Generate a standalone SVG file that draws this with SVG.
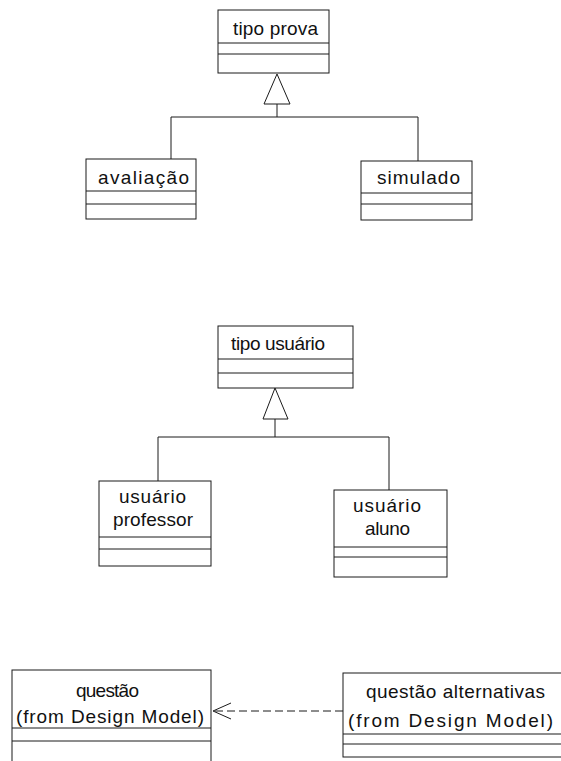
<svg xmlns="http://www.w3.org/2000/svg" width="561" height="761" viewBox="0 0 561 761">
<defs>
<style>
.box{fill:#fff;stroke:#1a1a1a;stroke-width:1}
.sep{stroke:#1a1a1a;stroke-width:1;fill:none}
.ln{stroke:#1a1a1a;stroke-width:1;fill:none}
.tri{fill:#fff;stroke:#1a1a1a;stroke-width:1}
.t{font-family:"Liberation Sans",Arial,sans-serif;font-size:19px;fill:#111}
</style>
</defs>
<rect width="561" height="761" fill="#fff"/>

<g id="connectors">
  <polyline class="ln" points="171,159 171,117 418,117 418,161"/>
  <line class="ln" x1="277" y1="104" x2="277" y2="117"/>
  <polygon class="tri" points="277,74 264,104 290,104"/>
  <polyline class="ln" points="158,481 158,437 389,437 389,490"/>
  <line class="ln" x1="275" y1="419" x2="275" y2="437"/>
  <polygon class="tri" points="275,388 263,419 288,419"/>
  <line class="ln" x1="343" y1="711" x2="214" y2="711" stroke-dasharray="8,4"/>
  <polyline class="ln" points="231,703 213,711 231,719"/>
</g>

<g id="tipo-prova">
  <rect class="box" x="218" y="10" width="111" height="63"/>
  <line class="sep" x1="218" y1="43" x2="329" y2="43"/>
  <line class="sep" x1="218" y1="54" x2="329" y2="54"/>
  <text class="t" x="233" y="35" textLength="85" lengthAdjust="spacing">tipo prova</text>
</g>

<g id="avaliacao">
  <rect class="box" x="86" y="159" width="110" height="60"/>
  <line class="sep" x1="86" y1="191" x2="196" y2="191"/>
  <line class="sep" x1="86" y1="204" x2="196" y2="204"/>
  <text class="t" x="98" y="184" textLength="91" lengthAdjust="spacing">avaliação</text>
</g>

<g id="simulado">
  <rect class="box" x="361" y="161" width="111" height="59"/>
  <line class="sep" x1="361" y1="193" x2="472" y2="193"/>
  <line class="sep" x1="361" y1="204" x2="472" y2="204"/>
  <text class="t" x="377" y="184" textLength="83" lengthAdjust="spacing">simulado</text>
</g>

<g id="tipo-usuario">
  <rect class="box" x="218" y="326" width="135" height="62"/>
  <line class="sep" x1="218" y1="359" x2="353" y2="359"/>
  <line class="sep" x1="218" y1="373" x2="353" y2="373"/>
  <text class="t" x="231" y="350" textLength="94" lengthAdjust="spacing">tipo usuário</text>
</g>

<g id="usuario-professor">
  <rect class="box" x="99" y="481" width="112" height="85"/>
  <line class="sep" x1="99" y1="537" x2="211" y2="537"/>
  <line class="sep" x1="99" y1="549" x2="211" y2="549"/>
  <text class="t" x="119" y="503" textLength="67" lengthAdjust="spacing">usuário</text>
  <text class="t" x="113" y="526" textLength="80" lengthAdjust="spacing">professor</text>
</g>

<g id="usuario-aluno">
  <rect class="box" x="334" y="490" width="113" height="87"/>
  <line class="sep" x1="334" y1="547" x2="447" y2="547"/>
  <line class="sep" x1="334" y1="557" x2="447" y2="557"/>
  <text class="t" x="353" y="512" textLength="68" lengthAdjust="spacing">usuário</text>
  <text class="t" x="365" y="535" textLength="45" lengthAdjust="spacing">aluno</text>
</g>

<g id="questao">
  <rect class="box" x="12" y="670" width="199" height="100"/>
  <line class="sep" x1="12" y1="728" x2="211" y2="728"/>
  <line class="sep" x1="12" y1="741" x2="211" y2="741"/>
  <text class="t" x="76" y="697" textLength="63" lengthAdjust="spacing">questão</text>
  <text class="t" x="16" y="723" textLength="188" lengthAdjust="spacing">(from Design Model)</text>
</g>

<g id="questao-alternativas">
  <rect class="box" x="343" y="673" width="222" height="84"/>
  <line class="sep" x1="343" y1="734" x2="565" y2="734"/>
  <line class="sep" x1="343" y1="744" x2="565" y2="744"/>
  <text class="t" x="366" y="698" textLength="179" lengthAdjust="spacing">questão alternativas</text>
  <text class="t" x="348" y="727" textLength="205" lengthAdjust="spacing">(from Design Model)</text>
</g>
</svg>
